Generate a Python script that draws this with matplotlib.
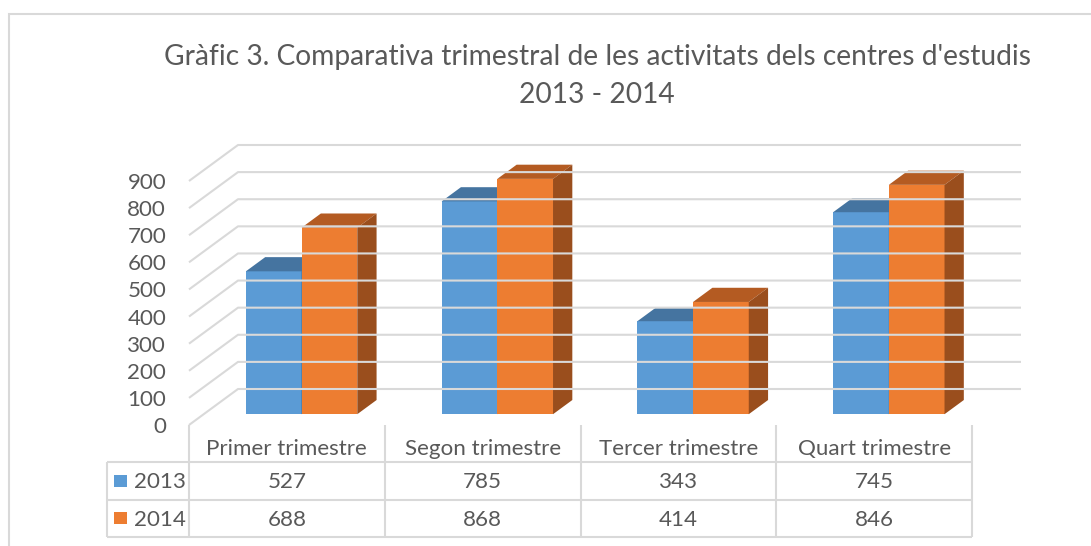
import matplotlib
matplotlib.use("Agg")
import matplotlib.pyplot as plt
from matplotlib.patches import Polygon, Rectangle
from matplotlib.lines import Line2D
from matplotlib.transforms import Affine2D, IdentityTransform
import numpy as np

# ---------------- data ----------------
title_line1 = "Gràfic 3. Comparativa trimestral de les activitats dels centres d'estudis"
title_line2 = "2013 - 2014"
categories = ["Primer trimestre", "Segon trimestre", "Tercer trimestre", "Quart trimestre"]
years = ["2013", "2014"]
values_2013 = [527, 785, 343, 745]
values_2014 = [688, 868, 414, 846]
y_ticks = [0, 100, 200, 300, 400, 500, 600, 700, 800, 900]

# ---------------- style ----------------
FRONT = ["#5B9BD5", "#ED7D31"]
TOP = ["#4574A0", "#B45B22"]
SIDE = ["#3E6891", "#9A4E1D"]
GRID = "#D9D9D9"
TXT = "#595959"
FONT = "Lato"

W, H = 1091, 546
fig = plt.figure(figsize=(W / 100, H / 100), dpi=100)
fig.patch.set_facecolor("white")


def fx(px):
    return px / W


def fy(py):
    return 1 - py / H


renderer = fig.canvas.get_renderer()


def fit_size(s, target_px, base=12):
    t = fig.text(0, 0, s, fontsize=base, family=FONT)
    w = t.get_window_extent(renderer).width
    t.remove()
    return base * target_px / w


fs_small = fit_size(categories[0], 160)
fs_title = fit_size(title_line1, 862)

# outer chart border
fig.add_artist(Rectangle((fx(9), fy(600)), fx(1200), fy(14) - fy(600),
                         transform=fig.transFigure, fill=False,
                         edgecolor=GRID, lw=1.5, clip_on=False))

# titles
fig.text(fx(597), fy(65), title_line1, ha="center", va="baseline",
         fontsize=fs_title, color=TXT, family=FONT)
fig.text(fx(597), fy(103), title_line2, ha="center", va="baseline",
         fontsize=fs_title, color=TXT, family=FONT)

# ---------------- main plot (front plane) ----------------
ax = fig.add_axes([fx(189), fy(425), fx(972) - fx(189), fy(181) - fy(425)])
ax.set_xlim(0, len(categories))
ax.set_ylim(0, 900)
ax.patch.set_visible(False)
for s in ax.spines.values():
    s.set_visible(False)
ax.set_xticks([])
ax.set_yticks(y_ticks)
ax.set_yticklabels([str(v) for v in y_ticks], family=FONT)
ax.tick_params(axis="y", length=0, pad=16.5, labelcolor=TXT, labelsize=fs_small)

DEPTH = np.array([49.0, 36.0])  # display offset of the back wall (px)
F0, F1 = 0.30, 0.694            # bar front/back depth fractions
BAR_W = 0.2845


def to_disp(x, v, d):
    return ax.transData.transform((x, v)) + DEPTH * d


def depth_tr(d):
    return ax.transData + Affine2D().translate(DEPTH[0] * d, DEPTH[1] * d)


# gridlines: left-side diagonals + back wall
for v in y_ticks:
    pts = np.array([to_disp(0, v, 0), to_disp(0, v, 1), to_disp(len(categories), v, 1)])
    fig.add_artist(Line2D(pts[:, 0], pts[:, 1], transform=IdentityTransform(),
                          color=GRID, lw=1.5, zorder=1, solid_capstyle="butt"))

series = [values_2013, values_2014]
for s, vals in enumerate(series):
    xs = np.arange(len(vals)) + 0.5 - BAR_W + s * BAR_W
    z = 2 + s
    ax.bar(xs, vals, width=BAR_W, align="edge", color=FRONT[s], linewidth=0,
           transform=depth_tr(F0), zorder=z, clip_on=False)
    for x0, v in zip(xs, vals):
        top = [to_disp(x0, v, F0), to_disp(x0 + BAR_W, v, F0),
               to_disp(x0 + BAR_W, v, F1), to_disp(x0, v, F1)]
        side = [to_disp(x0 + BAR_W, 0, F0), to_disp(x0 + BAR_W, v, F0),
                to_disp(x0 + BAR_W, v, F1), to_disp(x0 + BAR_W, 0, F1)]
        ax.add_artist(Polygon(top, closed=True, transform=IdentityTransform(),
                              facecolor=TOP[s], edgecolor="none", zorder=z + 0.1,
                              clip_on=False))
        ax.add_artist(Polygon(side, closed=True, transform=IdentityTransform(),
                              facecolor=SIDE[s], edgecolor="none", zorder=z + 0.1,
                              clip_on=False))

# ---------------- data table ----------------
tax = fig.add_axes([fx(189), fy(537), fx(972) - fx(189), fy(425) - fy(537)])
tax.set_xlim(0, len(categories))
tax.set_ylim(3, 0)
tax.axis("off")
col_px = (972 - 189) / len(categories)
lab_x = -(189 - 107) / col_px

tax.vlines(range(len(categories) + 1), 0, 3, color=GRID, lw=1.5, clip_on=False)
tax.hlines([1, 2, 3], lab_x, len(categories), color=GRID, lw=1.5, clip_on=False)
tax.vlines([lab_x], 1, 3, color=GRID, lw=1.5, clip_on=False)

for i, c in enumerate(categories):
    tax.text(i + 0.5, 0.80, c, ha="center", va="baseline", fontsize=fs_small,
             color=TXT, family=FONT)

key_x0 = -(189 - 114) / col_px
key_w = 13 / col_px
for r, (yr, vals) in enumerate(zip(years, series)):
    row = r + 1
    tax.add_patch(Rectangle((key_x0, row + 0.34), key_w, 0.32, facecolor=FRONT[r],
                            edgecolor="none", clip_on=False))
    tax.text(-(189 - 134) / col_px, row + 0.70, yr, ha="left", va="baseline",
             fontsize=fs_small, color=TXT, family=FONT, clip_on=False)
    for i, v in enumerate(vals):
        tax.text(i + 0.5, row + 0.70, str(v), ha="center", va="baseline",
                 fontsize=fs_small, color=TXT, family=FONT)

fig.savefig("out.png", dpi=100, facecolor="white")
